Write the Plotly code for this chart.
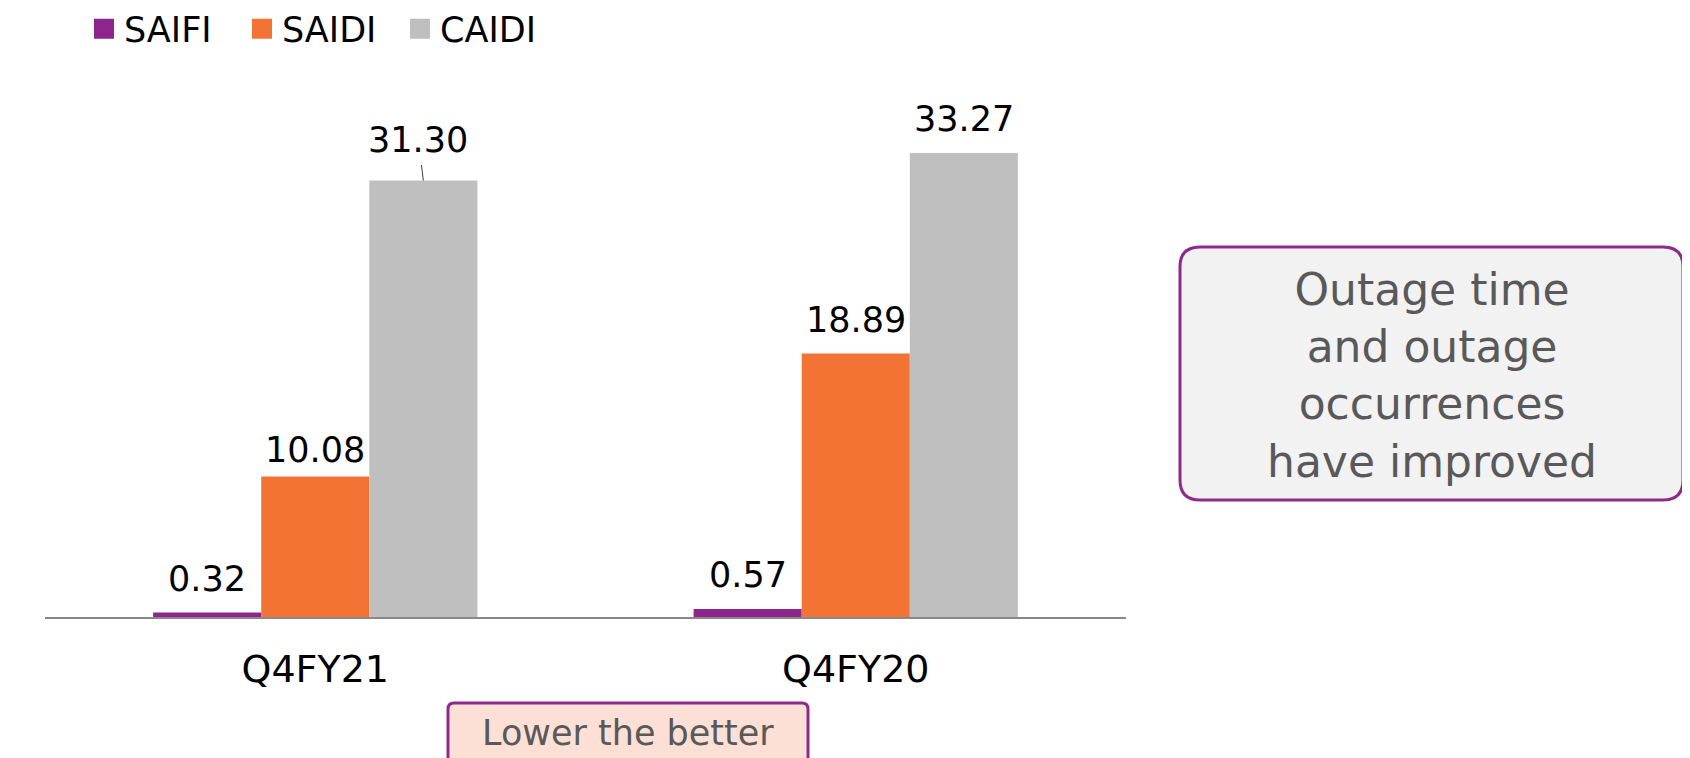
import plotly.graph_objects as go

# ---- data ----
categories = ["Q4FY21", "Q4FY20"]
series_names = ["SAIFI", "SAIDI", "CAIDI"]
saifi = [0.32, 0.57]
saidi = [10.08, 18.89]
caidi = [31.30, 33.27]
colors = ["#8E258D", "#F37335", "#BFBFBF"]
note_right = "Outage time<br>and outage<br>occurrences<br>have improved"
note_bottom = "Lower the better"

# ---- styling ----
OFF = 8  # page body margin
W, H = 1690 - OFF, 758 - OFF
ML, MR, MT, MB = 45 - OFF, 564, 115 - OFF, 141
PW, PH = W - ML - MR, H - MT - MB
FONT = "DejaVu Sans"
BARGAP = 0.4
LABEL_GAP = 34                           # px from bar top to label centre
LABEL_GAP_OVERRIDE = {("SAIDI", 0): 26}  # label sitting closer to its bar
LEADER = {("CAIDI", 0): (-5, -41)}       # label moved away, with leader line

fig = go.Figure()
values = [saifi, saidi, caidi]
n = len(series_names)
barw = (1 - BARGAP) / n
for j, (name, vals, col) in enumerate(zip(series_names, values, colors)):
    fig.add_trace(go.Bar(
        x=categories, y=vals, name=name, marker_color=col,
        marker_line_width=0, showlegend=False,
    ))
    # legend entry
    fig.add_trace(go.Scatter(
        x=[None], y=[None], mode="markers", name=name,
        marker=dict(symbol="square", size=16, color=col,
                    line=dict(color=col, width=4)),
        showlegend=True,
    ))
    offset = (j - (n - 1) / 2) * barw
    for i, v in enumerate(vals):
        key = (name, i)
        common = dict(x=i + offset, y=v, xref="x", yref="y",
                      text=f"{v:.2f}",
                      font=dict(family=FONT, size=35, color="#000000"))
        if key in LEADER:
            dx, dy = LEADER[key]
            fig.add_annotation(**common, showarrow=True, arrowhead=0,
                               arrowwidth=1, arrowcolor="#404040",
                               ax=dx, ay=dy, startstandoff=4)
        else:
            fig.add_annotation(**common, showarrow=False, yanchor="middle",
                               yshift=LABEL_GAP_OVERRIDE.get(key, LABEL_GAP))


def px2paper(px, py):
    fx, fy = px - OFF, py - OFF
    return (fx - ML) / PW, (H - MB - fy) / PH


def rounded_path(x0, y0, x1, y1, r):
    def P(px, py):
        a, b = px2paper(px, py)
        return f"{a:.5f},{b:.5f}"
    return (f"M {P(x0 + r, y0)} L {P(x1 - r, y0)} Q {P(x1, y0)} {P(x1, y0 + r)} "
            f"L {P(x1, y1 - r)} Q {P(x1, y1)} {P(x1 - r, y1)} "
            f"L {P(x0 + r, y1)} Q {P(x0, y1)} {P(x0, y1 - r)} "
            f"L {P(x0, y0 + r)} Q {P(x0, y0)} {P(x0 + r, y0)} Z")


fig.add_shape(type="path", xref="paper", yref="paper",
              path=rounded_path(1180, 247, 1683, 500, 20),
              fillcolor="#F2F2F2", line=dict(color="#8E2A8B", width=3))
fig.add_shape(type="path", xref="paper", yref="paper",
              path=rounded_path(448, 703, 808, 790, 6),
              fillcolor="#FCE0D6", line=dict(color="#8E2A8B", width=3))

ax_, ay_ = px2paper(1431.5, 375)
fig.add_annotation(x=ax_, y=ay_, xref="paper", yref="paper", text=note_right,
                   showarrow=False, xanchor="center", yanchor="middle",
                   font=dict(family=FONT, size=44, color="#595959"))
bx_, by_ = px2paper(628, 733)
fig.add_annotation(x=bx_, y=by_, xref="paper", yref="paper", text=note_bottom,
                   showarrow=False, xanchor="center", yanchor="middle",
                   font=dict(family=FONT, size=35, color="#595959"))

lx, ly = px2paper(84, 29)
fig.update_layout(
    width=W, height=H,
    margin=dict(l=ML, r=MR, t=MT, b=MB, autoexpand=False),
    paper_bgcolor="white", plot_bgcolor="white",
    barmode="group", bargap=BARGAP, bargroupgap=0,
    showlegend=True,
    legend=dict(orientation="h", x=lx, y=ly, xanchor="left", yanchor="middle",
                font=dict(family=FONT, size=35, color="#000000"),
                entrywidth=113,
                bgcolor="rgba(0,0,0,0)", itemclick=False),
    xaxis=dict(type="category", range=[-0.5, 1.5], showgrid=False,
               showline=True, linecolor="#898989", linewidth=2,
               ticks="", tickfont=dict(family=FONT, size=38, color="#000000"),
               ticklabelstandoff=17, zeroline=False, fixedrange=True),
    yaxis=dict(range=[0, 36], visible=False, showgrid=False, zeroline=False,
               fixedrange=True),
)

fig.write_html("out.html")
